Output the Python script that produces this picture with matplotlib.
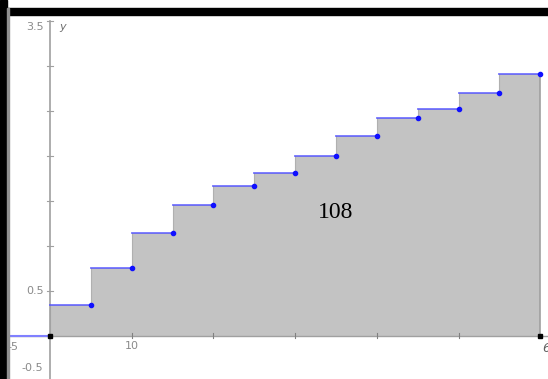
import matplotlib
matplotlib.use("Agg")
import matplotlib.pyplot as plt
from matplotlib.patches import Rectangle

# step function (right endpoints), width 5, from 0 to 60
x_edges = [0, 5, 10, 15, 20, 25, 30, 35, 40, 45, 50, 55, 60]
heights = [0.34, 0.75, 1.14, 1.45, 1.66, 1.81, 1.99, 2.22, 2.42, 2.52, 2.70, 2.91]
area_label = "108"

y_ticks = [-0.5, 0.5, 1.0, 1.5, 2.0, 2.5, 3.0, 3.5]
x_ticks = [10, 20, 30, 40, 50]

W, H = 548, 379
fig = plt.figure(figsize=(W / 100, H / 100), dpi=100)
fig.patch.set_facecolor("white")

# black screen border (left + top)
fig.patches.append(Rectangle((0, 0), 7 / W, 1, transform=fig.transFigure, color="black", zorder=0))
fig.patches.append(Rectangle((0, 1 - 15 / H), 1, 7 / H, transform=fig.transFigure, color="black", zorder=0))
fig.patches.append(Rectangle((7 / W, 0), 1.5 / W, 1 - 8 / H, transform=fig.transFigure, color="#909090", zorder=0))

ax = fig.add_axes([8 / W, 0, (W - 8) / W, (H - 16) / H])
ax.set_xlim(-5.14, 60.95)
ax.set_ylim(-0.483, 3.55)
ax.axis("off")

axis_col = "#a0a0a0"
lab_col = "#8a8a8a"

# shaded rectangles
prev = 0
for i, h in enumerate(heights):
    ax.fill_between([x_edges[i], x_edges[i + 1]], 0, h, color="#c3c3c3", lw=0, zorder=1)
    ax.plot([x_edges[i], x_edges[i]], [prev, h], color="#b0b0b0", lw=0.8, zorder=2)
    prev = h
ax.plot([x_edges[-1], x_edges[-1]], [0, heights[-1]], color="#a0a0a0", lw=1.2, zorder=2)

# axes
ax.plot([-5.14, 60.95], [0, 0], color=axis_col, lw=1, zorder=3)
ax.plot([0, 0], [-0.483, 3.5], color=axis_col, lw=1.2, zorder=3)
ax.annotate("", xy=(0, 3.56), xytext=(0, 3.45),
            arrowprops=dict(arrowstyle="-|>", color="#606060", lw=0.8, mutation_scale=6), zorder=3)
for yt in y_ticks:
    ax.plot([-0.35, 0.35], [yt, yt], color=axis_col, lw=0.8, zorder=3)
for xt in x_ticks:
    ax.plot([xt, xt], [-0.03, 0.03], color="#808080", lw=0.8, zorder=3)

# function left of origin
ax.plot([-5.14, 0], [0, 0], color="#8080ff", lw=1.5, zorder=4)

# blue tops with endpoint dots
for i, h in enumerate(heights):
    ax.plot([x_edges[i], x_edges[i + 1]], [h, h], color="#5050ff", lw=1.3, alpha=0.8, zorder=4)
    ax.plot(x_edges[i + 1], h, "o", color="#1010ff", ms=3, zorder=5)

ax.plot([x_edges[0], x_edges[-1]], [0, 0], "s", color="black", ms=3.5, zorder=6)

# labels
fs = 8
ax.text(-0.8, 3.43, "3.5", color=lab_col, fontsize=fs, ha="right", va="center")
ax.text(1.1, 3.43, "y", color="#707070", fontsize=fs, ha="left", va="center", style="italic")
ax.text(-0.8, 0.49, "0.5", color=lab_col, fontsize=fs, ha="right", va="center")
ax.text(-0.8, -0.36, "-0.5", color=lab_col, fontsize=fs, ha="right", va="center")
ax.text(-4.5, -0.13, "-5", color=lab_col, fontsize=fs, ha="center", va="center")
ax.text(10, -0.12, "10", color=lab_col, fontsize=fs, ha="center", va="center")
ax.text(60.25, -0.14, "60", color="#606060", fontsize=fs + 1, ha="left", va="center", style="italic")

ax.text(34.9, 1.37, area_label, color="black", fontsize=17, ha="center", va="center",
        family="Liberation Serif")

fig.savefig("out.png", dpi=100)
